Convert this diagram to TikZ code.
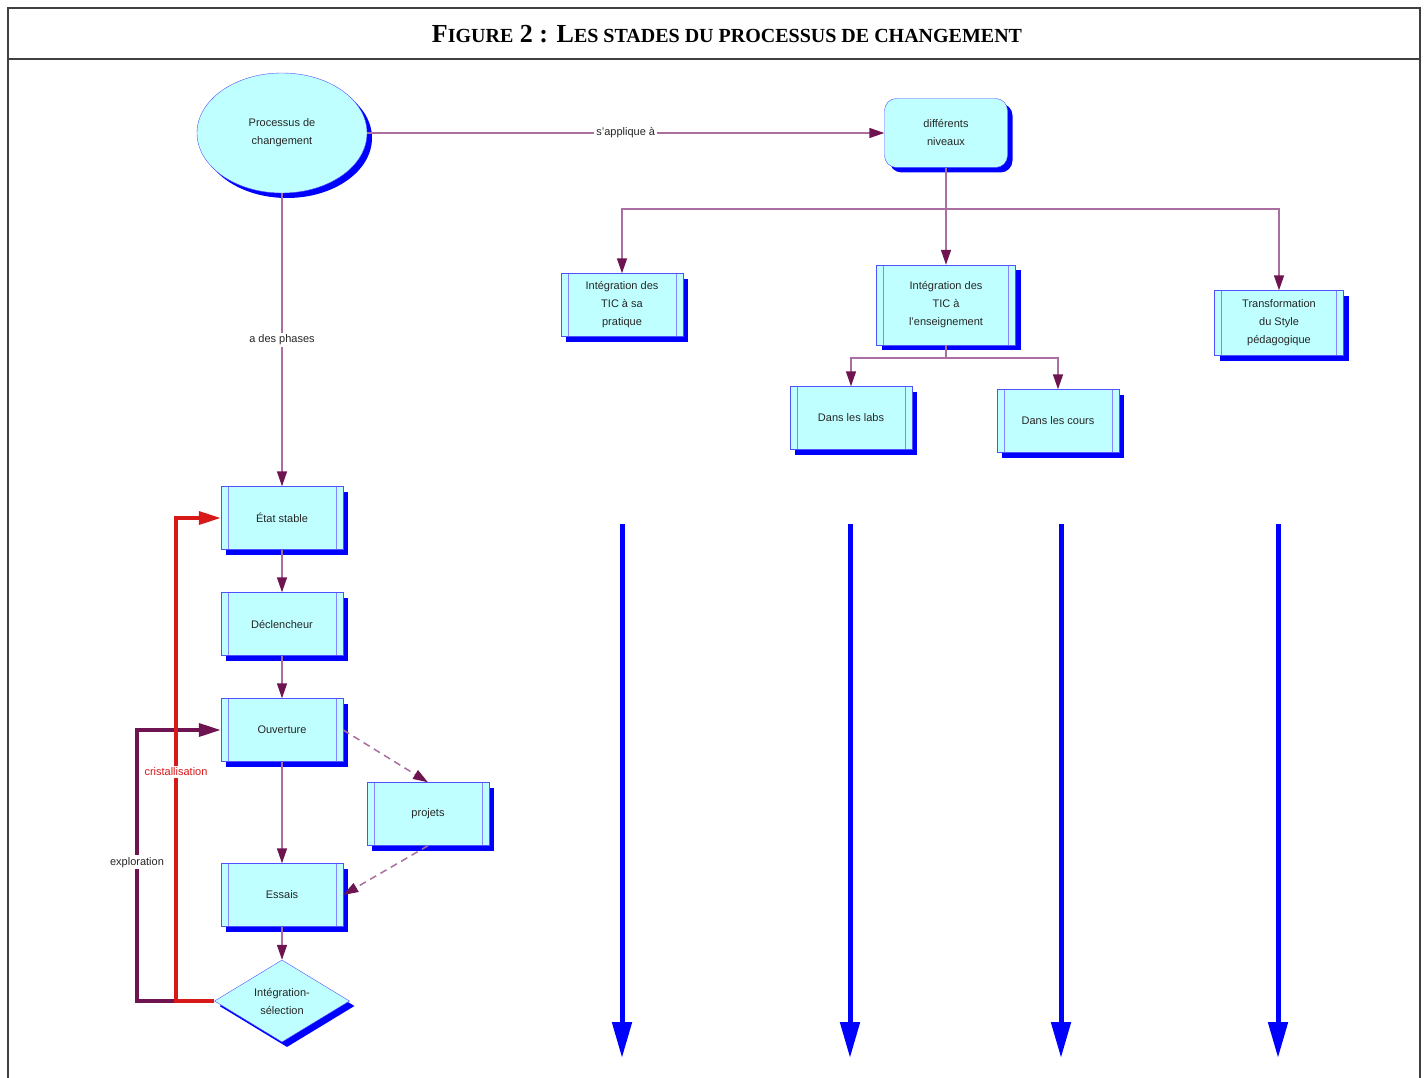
\documentclass[tikz,border=0pt]{standalone}
\usepackage{fontspec}
\setmainfont{Liberation Serif}
\setsansfont{Liberation Sans}
\usetikzlibrary{shapes.geometric,shadows,arrows.meta,positioning}

\definecolor{boxfill}{RGB}{192,255,255}
\definecolor{boxline}{RGB}{80,80,255}
\definecolor{linkline}{RGB}{170,110,160}
\definecolor{linkhead}{RGB}{110,20,80}
\definecolor{loopred}{RGB}{215,25,25}
\definecolor{loopviolet}{RGB}{110,20,80}

\newcommand{\petit}[1]{{\fontsize{20}{24}\selectfont #1}}

\tikzset{
	ombre/.style={drop shadow={shadow xshift=5pt, shadow yshift=-5pt, fill=blue, opacity=1}},
	texte/.style={font=\sffamily\fontsize{11}{18}\selectfont, text=black!85, align=center},
	stade/.style={rectangle, draw=boxline, fill=boxfill, minimum width=122pt, minimum height=63pt, ombre, texte,
		path picture={\draw[boxline!70]
			([xshift=7pt]path picture bounding box.north west) -- ([xshift=7pt]path picture bounding box.south west)
			([xshift=-7pt]path picture bounding box.north east) -- ([xshift=-7pt]path picture bounding box.south east);}},
	processus/.style={ellipse, draw=boxline, fill=boxfill, minimum width=170pt, minimum height=120pt, ombre, texte},
	niveau/.style={rectangle, rounded corners=12pt, draw=boxline, fill=boxfill, minimum width=123pt, minimum height=69pt, ombre, texte},
	decision/.style={diamond, aspect=1.65, inner sep=0pt, draw=boxline, fill=boxfill, minimum width=135pt, minimum height=82pt, ombre, texte},
	lien/.style={draw=linkline, line width=1.5pt, -{Triangle[length=15pt,width=10pt,color=linkhead]}},
	pointille/.style={dash pattern=on 7pt off 5pt},
	etiquette/.style={fill=white, inner sep=2pt, texte},
	cristal/.style={draw=loopred, line width=3.5pt, -{Triangle[length=22pt,width=13pt]}},
	explo/.style={draw=loopviolet, line width=3.5pt, -{Triangle[length=22pt,width=13pt]}},
	fleche/.style={draw=blue, line width=5pt, -{Triangle[length=36pt,width=19pt]}},
	cadre/.style={draw=black!75, line width=1.5pt}
}

\begin{document}
\begin{tikzpicture}[x=1pt, y=-1pt]
	\useasboundingbox (0,0) rectangle (1426,1078);
	
	% cadre et titre
	\draw[cadre] (8,1078) -- (8,8) -- (1420,8) -- (1420,1078);
	\draw[cadre] (8,59) -- (1420,59);
	\node (titre) at (727,34) {\bfseries\fontsize{26}{30}\selectfont F\petit{IGURE} 2 : L\petit{ES STADES DU PROCESSUS DE CHANGEMENT}};
	
	% niveaux
	\node[processus] (proc) at (282,133) {Processus de\\changement};
	\node[niveau] (niv) at (946,133) {différents\\niveaux};
	\node[stade] (pratique) at (622,305) {Intégration des\\TIC à sa\\pratique};
	\node[stade, minimum width=139pt, minimum height=80pt] (enseign) at (946,305) {Intégration des\\TIC à\\l'enseignement};
	\node[stade, minimum width=129pt, minimum height=65pt] (transfo) at (1279,323) {Transformation\\du Style\\pédagogique};
	\node[stade] (labs) at (851,418) {Dans les labs};
	\node[stade] (cours) at (1058,421) {Dans les cours};
	\coordinate (branche) at (946,209);
	\coordinate (branche2) at (946,358);
	
	% phases
	\node[stade] (stable) at (282,518) {État stable};
	\node[stade] (declench) at (282,624) {Déclencheur};
	\node[stade] (ouvert) at (282,730) {Ouverture};
	\node[stade] (projets) at (428,814) {projets};
	\node[stade] (essais) at (282,895) {Essais};
	\node[decision] (selection) at (282,1001) {Intégration-\\sélection};
	\coordinate (coinR) at (176,1001);
	\coordinate (coinV) at (137,1001);
	
	\draw[lien] (proc) -- node[etiquette] {s'applique à} (niv);
	\draw[draw=linkline, line width=1.5pt] (niv) -- (branche);
	\draw[lien] (branche) -| (pratique.north);
	\draw[lien] (branche) -- (enseign);
	\draw[lien] (branche) -| (transfo.north);
	\draw[draw=linkline, line width=1.5pt] (enseign) -- (branche2);
	\draw[lien] (branche2) -| (labs.north);
	\draw[lien] (branche2) -| (cours.north);
	
	\draw[lien] (proc) -- node[etiquette] {a des phases} (stable);
	\draw[lien] (stable) -- (declench);
	\draw[lien] (declench) -- (ouvert);
	\draw[lien] (ouvert) -- (essais);
	\draw[lien] (essais) -- (selection);
	\draw[lien, pointille] (ouvert.east) -- (projets.north);
	\draw[lien, pointille] (projets.south) -- (essais.east);
	
	\draw[explo] (coinR) -- (coinV) |- node[pos=.256, etiquette] {exploration} (ouvert.west);
	\draw[cristal] (selection.west) -- (coinR) |- node[pos=.237, etiquette, text=loopred] {cristallisation} (stable.west);
	
	% grandes fleches
	\foreach \x [count=\i] in {622,850,1061,1278} {
		\coordinate (haut\i) at (\x,524);
		\coordinate (bas\i) at (\x,1058);
		\draw[fleche] (haut\i) -- (bas\i);
	}
\end{tikzpicture}
\end{document}
